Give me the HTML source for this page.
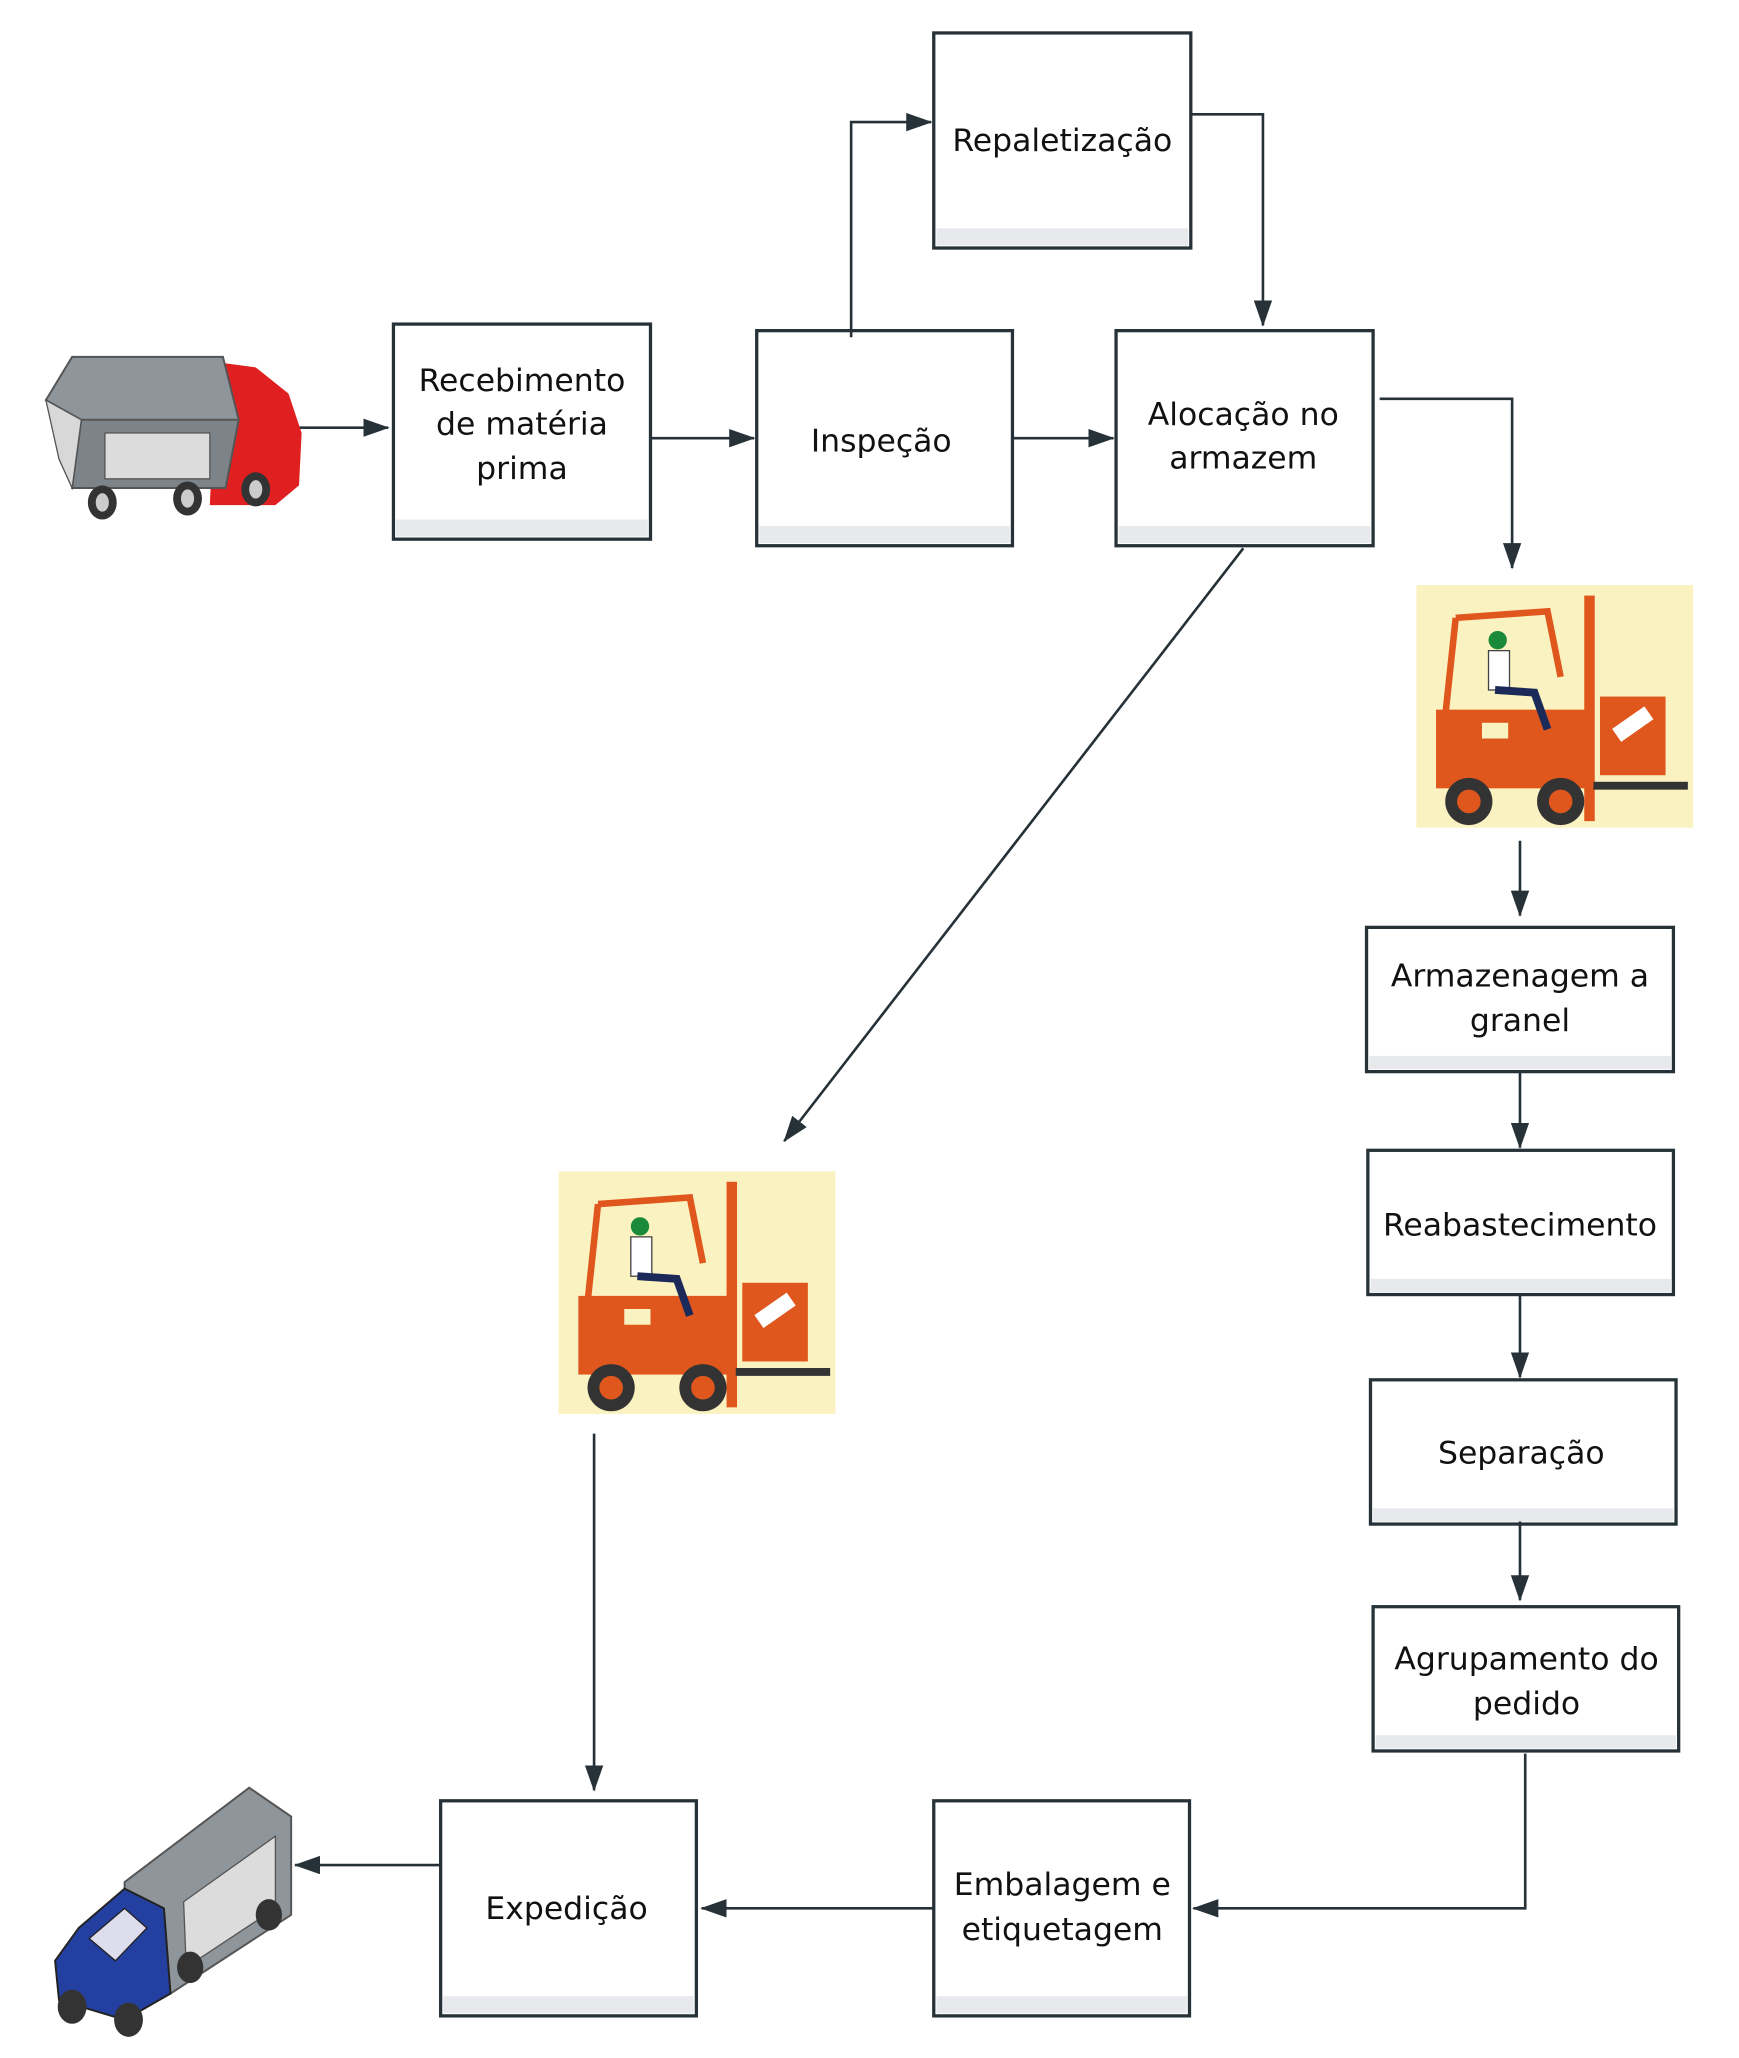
<!DOCTYPE html>
<html><head><meta charset="utf-8"><style>
html,body{margin:0;padding:0;background:#fff;}
svg{display:block;}
text{font-family:"DejaVu Sans","Liberation Sans",sans-serif;font-size:24px;fill:#111;text-anchor:middle;}
</style></head><body>
<svg width="1739" height="2058" viewBox="0 0 1326 1569" xmlns="http://www.w3.org/2000/svg">
<defs>
<marker id="a" markerWidth="20" markerHeight="14" refX="19" refY="7" orient="auto" markerUnits="userSpaceOnUse" viewBox="0 0 20 14">
<path d="M0,0 L20,7 L0,14 z" fill="#263238"/></marker>
<g id="fork">
<rect x="0" y="0" width="211" height="185" fill="#fbf2c2"/>
<rect x="128" y="8" width="8" height="172" fill="#e0571e"/>
<rect x="140" y="85" width="50" height="60" fill="#e0571e"/>
<rect x="150" y="100" width="30" height="12" fill="#fff" transform="rotate(-35 165 106)"/>
<rect x="135" y="150" width="72" height="6" fill="#333"/>
<path d="M30,25 L100,20 L110,70" fill="none" stroke="#e0571e" stroke-width="5"/>
<path d="M30,25 L22,100" stroke="#e0571e" stroke-width="5"/>
<rect x="15" y="95" width="115" height="60" fill="#e0571e"/>
<rect x="50" y="105" width="20" height="12" fill="#fbf2c2"/>
<circle cx="40" cy="165" r="18" fill="#333"/><circle cx="40" cy="165" r="9" fill="#e0571e"/>
<circle cx="110" cy="165" r="18" fill="#333"/><circle cx="110" cy="165" r="9" fill="#e0571e"/>
<circle cx="62" cy="42" r="7" fill="#1a8a3a"/>
<rect x="55" y="50" width="16" height="30" fill="#fff" stroke="#444"/>
<path d="M60,80 L90,82 L100,110" stroke="#1c2a5a" stroke-width="6" fill="none"/>
</g>
</defs>
<g stroke="#263238" stroke-width="2.5" fill="#fff">
<rect x="300" y="247" width="196" height="164"/>
<rect x="577" y="252" width="195" height="164"/>
<rect x="712" y="25" width="196" height="164"/>
<rect x="851" y="252" width="196" height="164"/>
<rect x="1042" y="707" width="234" height="110"/>
<rect x="1043" y="877" width="233" height="110"/>
<rect x="1045" y="1052" width="233" height="110"/>
<rect x="1047" y="1225" width="233" height="110"/>
<rect x="712" y="1373" width="195" height="164"/>
<rect x="336" y="1373" width="195" height="164"/>
</g>
<g fill="#e8e9ec">
<rect x="302" y="396" width="192" height="13"/>
<rect x="579" y="401" width="191" height="13"/>
<rect x="714" y="174" width="192" height="13"/>
<rect x="853" y="401" width="192" height="13"/>
<rect x="1044" y="805" width="230" height="10"/>
<rect x="1045" y="975" width="229" height="10"/>
<rect x="1047" y="1150" width="229" height="10"/>
<rect x="1049" y="1323" width="229" height="10"/>
<rect x="714" y="1522" width="191" height="13"/>
<rect x="338" y="1522" width="191" height="13"/>
</g>
<g fill="none" stroke="#263238" stroke-width="2" marker-end="url(#a)">
<path d="M220,326 H296"/>
<path d="M496,334 H575"/>
<path d="M649,257 V93 H710"/>
<path d="M908,87 H963 V248"/>
<path d="M772,334 H849"/>
<path d="M1052,304 H1153 V433"/>
<path d="M948,418 L598,870"/>
<path d="M1159,641 V698"/>
<path d="M1159,817 V875"/>
<path d="M1159,987 V1050"/>
<path d="M1159,1160 V1220"/>
<path d="M1163,1337 V1455 H910"/>
<path d="M712,1455 H535"/>
<path d="M336,1422 H225"/>
<path d="M453,1093 V1365"/>
</g>
<text x="398" y="298">Recebimento</text>
<text x="398" y="331">de matéria</text>
<text x="398" y="365">prima</text>
<text x="672" y="344">Inspeção</text>
<text x="810" y="115">Repaletização</text>
<text x="948" y="324">Alocação no</text>
<text x="948" y="357">armazem</text>
<text x="1159" y="752">Armazenagem a</text>
<text x="1159" y="786">granel</text>
<text x="1159" y="942">Reabastecimento</text>
<text x="1160" y="1116">Separação</text>
<text x="1164" y="1273">Agrupamento do</text>
<text x="1164" y="1307">pedido</text>
<text x="810" y="1445">Embalagem e</text>
<text x="810" y="1479">etiquetagem</text>
<text x="432" y="1463">Expedição</text>
<use href="#fork" x="1080" y="446"/>
<use href="#fork" x="426" y="893"/>
<path d="M165,276 L195,280 L220,300 L230,330 L228,370 L210,385 L160,385 Z" fill="#e02020"/>
<path d="M55,272 L170,272 L182,320 L62,320 L35,305 Z" fill="#8e959b" stroke="#555" stroke-width="1.5"/>
<path d="M62,320 L182,320 L172,372 L55,372 Z" fill="#7c848a" stroke="#555" stroke-width="1.5"/>
<path d="M35,305 L62,320 L55,372 L45,350 Z" fill="#d8d8d8" stroke="#555"/>
<rect x="80" y="330" width="80" height="35" fill="#dcdcdc" stroke="#555"/>
<ellipse cx="78" cy="383" rx="11" ry="13" fill="#333"/><ellipse cx="78" cy="383" rx="5" ry="7" fill="#ccc"/>
<ellipse cx="143" cy="380" rx="11" ry="13" fill="#333"/><ellipse cx="143" cy="380" rx="5" ry="7" fill="#ccc"/>
<ellipse cx="195" cy="373" rx="11" ry="13" fill="#333"/><ellipse cx="195" cy="373" rx="5" ry="7" fill="#ccc"/>
<path d="M95,1435 L190,1363 L222,1385 L222,1460 L130,1520 L95,1500 Z" fill="#8e959b" stroke="#555" stroke-width="1.5"/>
<path d="M140,1450 L210,1400 L210,1455 L142,1500 Z" fill="#dcdcdc" stroke="#555"/>
<path d="M60,1470 L95,1440 L125,1455 L130,1520 L95,1540 L45,1525 L42,1495 Z" fill="#2340a0" stroke="#222" stroke-width="1.5"/>
<path d="M68,1478 L95,1455 L112,1470 L88,1495 Z" fill="#dde" stroke="#222"/>
<ellipse cx="55" cy="1530" rx="11" ry="13" fill="#333"/><ellipse cx="98" cy="1540" rx="11" ry="13" fill="#333"/>
<ellipse cx="145" cy="1500" rx="10" ry="12" fill="#333"/><ellipse cx="205" cy="1460" rx="10" ry="12" fill="#333"/>
</svg>
</body></html>
